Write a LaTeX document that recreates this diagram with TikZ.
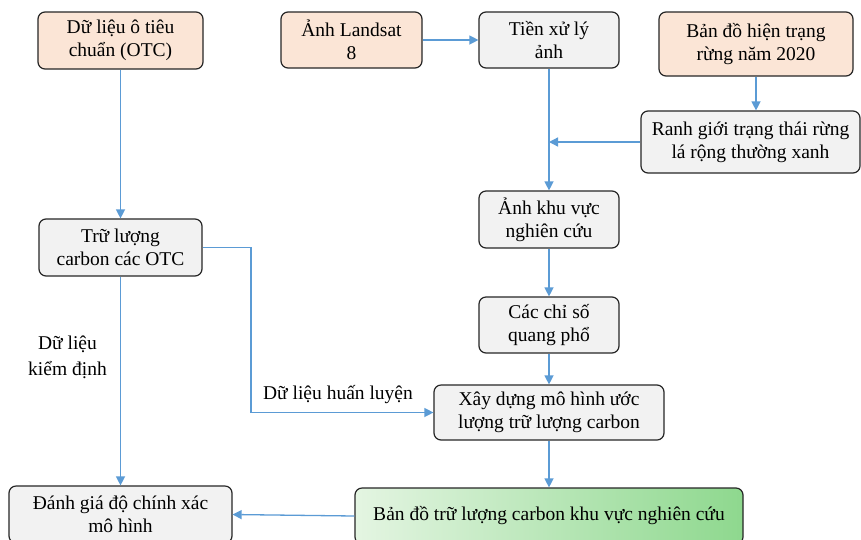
\documentclass[tikz,border=0pt]{standalone}
\usepackage{fontspec}
\setmainfont{Liberation Serif}
\usetikzlibrary{arrows.meta}
\definecolor{arrowblue}{RGB}{91,155,213}
\definecolor{boxorange}{RGB}{251,229,214}
\definecolor{boxgray}{RGB}{242,242,242}
\definecolor{boxborder}{RGB}{38,38,38}
\definecolor{greenL}{RGB}{228,245,226}
\definecolor{greenR}{RGB}{142,216,142}
\begin{document}
\begin{tikzpicture}[x=1pt,y=-1pt,
  every node/.style={font=\rmfamily\fontsize{19.5}{23}\selectfont, inner sep=0pt, align=center},
  box/.style={draw=boxborder, line width=1.2pt, rounded corners=7pt, fill=boxgray},
  obox/.style={box, fill=boxorange},
  gbox/.style={box, left color=greenL, right color=greenR},
  conn/.style={draw=arrowblue, line width=1.3pt},
  arr/.style={conn, -{Triangle[length=9pt,width=9pt]}},
  lbl/.style={font=\rmfamily\fontsize{19.5}{26}\selectfont}
]
\clip (0,0) rectangle (861,539);
\fill[white] (0,0) rectangle (861,539);

\node[obox, minimum width=165pt, minimum height=57pt] (otc) at (120.5,40.5) {Dữ liệu ô tiêu\\chuẩn (OTC)};
\node[obox, minimum width=141pt, minimum height=56pt] (landsat) at (351.5,40) {Ảnh Landsat\\8};
\node[box, minimum width=140pt, minimum height=56pt] (tien) at (549,40) {Tiền xử lý\\ảnh};
\node[obox, minimum width=194pt, minimum height=64pt] (bando) at (756,44) {Bản đồ hiện trạng\\rừng năm 2020};
\node[box, minimum width=219pt, minimum height=62pt] (ranh) at (750.5,142) {Ranh giới trạng thái rừng\\lá rộng thường xanh};
\node[box, minimum width=140pt, minimum height=57pt] (anh) at (549,219.5) {Ảnh khu vực\\nghiên cứu};
\node[box, minimum width=163pt, minimum height=57pt] (tru) at (120.5,247.5) {Trữ lượng\\carbon các OTC};
\node[box, minimum width=140pt, minimum height=56pt] (chiso) at (549,325) {Các chỉ số\\quang phổ};
\node[box, minimum width=230pt, minimum height=55pt] (xay) at (549,412.5) {Xây dựng mô hình ước\\lượng trữ lượng carbon};
\node[gbox, minimum width=388pt, minimum height=56pt] (map) at (549,516) {Bản đồ trữ lượng carbon khu vực nghiên cứu};
\node[box, minimum width=223pt, minimum height=57pt] (danh) at (120.5,514.5) {Đánh giá độ chính xác\\mô hình};

\node[lbl] (lbkd) at (67.5,357) {Dữ liệu\\kiểm định};
\node[lbl] (lbhl) at (338,395) {Dữ liệu huấn luyện};

\coordinate (join) at (tien.south |- ranh.west);
\coordinate (bend1) at (251,247.5);
\coordinate (bend2) at (251,412.5);

\draw[arr] (otc.south) -- (tru.north);
\draw[arr] (landsat.east) -- (tien.west);
\draw[arr] (tien.south) -- (anh.north);
\draw[arr] (bando.south) -- (bando.south |- ranh.north);
\draw[arr] (ranh.west) -- (join);
\draw[arr] (anh.south) -- (chiso.north);
\draw[arr] (chiso.south) -- (xay.north);
\draw[arr] (xay.south) -- (map.north);
\draw[arr] (map.west) -- (danh.east);
\draw[arr] (tru.south) -- (danh.north);
\draw[arr] (tru.east) -- (bend1) -- (bend2) -- (xay.west);
\end{tikzpicture}
\end{document}
